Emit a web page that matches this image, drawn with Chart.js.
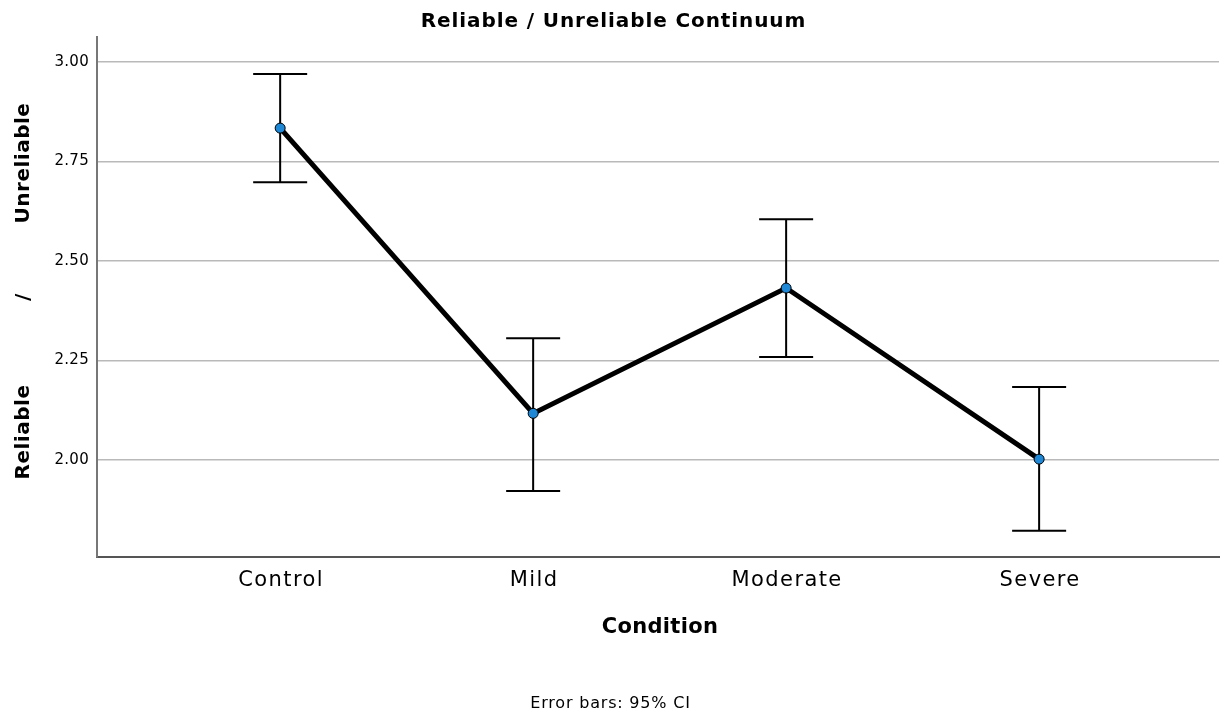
<!DOCTYPE html>
<html>
<head>
<meta charset="utf-8">
<script src="https://cdn.jsdelivr.net/npm/chart.js@4.4.1/dist/chart.umd.min.js"></script>
<style>
  html, body { margin: 0; padding: 0; background: #fff; }
  #wrap { width: 1225px; height: 719px; }
</style>
</head>
<body>
<div id="wrap"><canvas id="chart" width="1225" height="719"></canvas></div>
<script>
// Data
const conditions = ['Control', 'Mild', 'Moderate', 'Severe'];
const means = [2.834, 2.117, 2.432, 2.002];
const ciLower = [2.698, 1.922, 2.259, 1.822];
const ciUpper = [2.970, 2.306, 2.605, 2.183];
const yTicks = [2.00, 2.25, 2.50, 2.75, 3.00];

const FONT = '"DejaVu Sans", sans-serif';

// Error bars drawn under the line
const errorBars = {
    id: 'errorBars',
    beforeDraw(chart) {
        chart.ctx.letterSpacing = '0.3px';
    },
    beforeDatasetsDraw(chart) {
        const ctx = chart.ctx;
        const x = chart.scales.x;
        const y = chart.scales.y;
        ctx.save();
        ctx.strokeStyle = '#000';
        ctx.lineWidth = 2;
        conditions.forEach((c, i) => {
            const px = x.getPixelForValue(i);
            const top = y.getPixelForValue(ciUpper[i]);
            const bot = y.getPixelForValue(ciLower[i]);
            ctx.beginPath();
            ctx.moveTo(px, top); ctx.lineTo(px, bot);
            ctx.moveTo(px - 27, top); ctx.lineTo(px + 27, top);
            ctx.moveTo(px - 27, bot); ctx.lineTo(px + 27, bot);
            ctx.stroke();
        });
        ctx.restore();
    }
};

// Category labels, titles and footnote
const labels = {
    id: 'labels',
    afterDraw(chart) {
        const ctx = chart.ctx;
        const area = chart.chartArea;
        const x = chart.scales.x;
        ctx.save();
        ctx.fillStyle = '#000';
        ctx.textAlign = 'center';
        ctx.textBaseline = 'middle';

        ctx.font = '21px ' + FONT;
        ctx.letterSpacing = '1.4px';
        conditions.forEach((c, i) => {
            ctx.fillText(c, x.getPixelForValue(i) + 1, 581);
        });

        ctx.font = 'bold 20px ' + FONT;
        ctx.letterSpacing = '0.9px';
        ctx.fillText('Reliable / Unreliable Continuum', chart.width / 2 + 1, 22);

        ctx.font = 'bold 21px ' + FONT;
        ctx.letterSpacing = '0.3px';
        ctx.fillText('Condition', (area.left + area.right) / 2 + 2, 628);

        ctx.font = '16px ' + FONT;
        ctx.letterSpacing = '0.8px';
        ctx.fillText('Error bars: 95% CI', chart.width / 2 - 2, 704);

        const mid = (area.top + area.bottom) / 2;
        ctx.translate(24, mid);
        ctx.rotate(-Math.PI / 2);
        ctx.font = 'bold 20px ' + FONT;
        ctx.letterSpacing = '0.5px';
        ctx.fillText('Reliable', -135, 0);
        ctx.fillText('/', 0, 0);
        ctx.fillText('Unreliable', 134, 0);
        ctx.restore();
    }
};

const ctx = document.getElementById('chart').getContext('2d');
new Chart(ctx, {
    type: 'line',
    data: {
        datasets: [{
            data: means.map((m, i) => ({ x: i, y: m })),
            borderColor: '#000',
            borderWidth: 5,
            pointRadius: 5,
            pointBackgroundColor: '#1f88d6',
            pointBorderColor: '#000',
            pointBorderWidth: 1,
            tension: 0
        }]
    },
    options: {
        responsive: false,
        animation: false,
        layout: { padding: { top: 37, right: 0, left: 0, bottom: 0 } },
        plugins: {
            legend: { display: false },
            tooltip: { enabled: false }
        },
        scales: {
            x: {
                type: 'linear',
                min: -0.724,
                max: 3.711,
                afterFit: s => { s.height = 162; },
                afterBuildTicks: s => { s.ticks = conditions.map((c, i) => ({ value: i })); },
                grid: { display: false, drawTicks: false },
                border: { display: true, color: '#555', width: 2 },
                ticks: { display: false }
            },
            y: {
                min: 1.756,
                max: 3.063,
                afterFit: s => { s.width = 97; },
                afterBuildTicks: s => { s.ticks = yTicks.map(v => ({ value: v })); },
                grid: { color: '#b9b9b9', lineWidth: 1.5, drawTicks: false },
                border: { display: true, color: '#777', width: 2 },
                ticks: {
                    padding: 8,
                    color: '#000',
                    font: { family: FONT, size: 15 },
                    callback: v => v.toFixed(2)
                }
            }
        }
    },
    plugins: [errorBars, labels]
});
</script>
</body>
</html>
